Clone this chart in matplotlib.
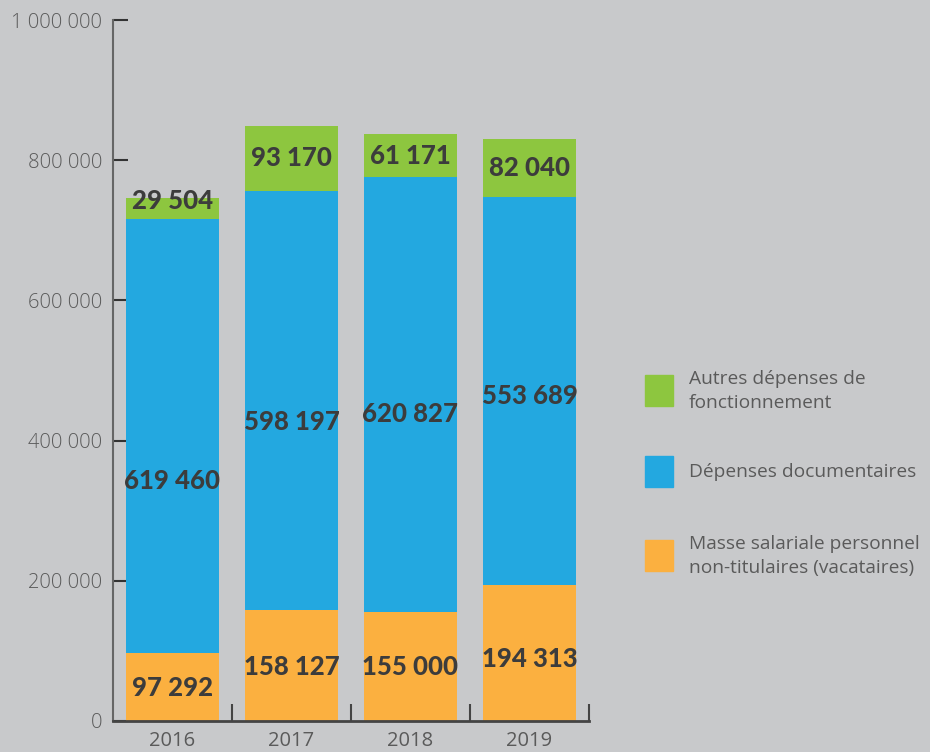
import numpy as np
import matplotlib.pyplot as plt
from matplotlib.patches import Rectangle

# Données
annees = ["2016", "2017", "2018", "2019"]
masse_salariale = [97292, 158127, 155000, 194313]
depenses_doc = [619460, 598197, 620827, 553689]
autres_depenses = [29504, 93170, 61171, 82040]

series = [
    ("Masse salariale personnel\nnon-titulaires (vacataires)", masse_salariale, "#fbb040"),
    ("Dépenses documentaires", depenses_doc, "#23a8e0"),
    ("Autres dépenses de\nfonctionnement", autres_depenses, "#8dc63f"),
]

fond = "#c8c9cb"
texte_fonce = "#3c3c3c"
texte_gris = "#5a5a5a"

# décalages des étiquettes par rapport au centre du segment (comme dans l'original)
decalages = {
    "#fbb040": [-2000, -2000, 0, -8500],
    "#23a8e0": [-65000, -31000, -28000, -7000],
    "#8dc63f": [10000, 0, 0, 0],
}

fig = plt.figure(figsize=(9.3, 7.52), dpi=100, facecolor=fond)
ax = fig.add_axes([113 / 930, 31 / 752, 476 / 930, 701 / 752])
ax.set_facecolor(fond)

x = np.arange(len(annees))
bas = np.zeros(len(annees))
for nom, vals, couleur in series:
    vals = np.array(vals, dtype=float)
    ax.bar(x, vals, 0.775, bottom=bas, color=couleur, zorder=2)
    for i, v in enumerate(vals):
        y = bas[i] + v / 2 + decalages[couleur][i]
        etiquette = f"{int(v):,}".replace(",", " ")
        ax.text(x[i], y, etiquette, ha="center", va="center", fontsize=18.5,
                fontweight="black", color=texte_fonce, family="Lato", zorder=3)
    bas += vals

ax.set_xlim(-0.5, 3.5)
ax.set_ylim(0, 1000000)

ax.set_yticks(np.arange(0, 1000001, 200000))
ax.set_yticklabels([f"{int(t):,}".replace(",", " ") for t in ax.get_yticks()])
ax.tick_params(axis="y", direction="in", length=11, width=1.5, color="#333333",
               pad=8, labelsize=14.5, labelcolor=texte_gris)
for lab in ax.get_yticklabels():
    lab.set_family("Open Sans")
    lab.set_fontweight("light")

ax.set_xticks(x)
ax.set_xticklabels(annees)
ax.set_xticks([0.5, 1.5, 2.5, 3.5], minor=True)
ax.tick_params(axis="x", which="major", length=0, pad=7, labelsize=14.5, labelcolor=texte_gris)
ax.tick_params(axis="x", which="minor", direction="in", length=12, width=1.5, color="#444444")
for lab in ax.get_xticklabels():
    lab.set_family("Open Sans")

ax.spines["top"].set_visible(False)
ax.spines["right"].set_visible(False)
ax.spines["left"].set_color("#666666")
ax.spines["left"].set_linewidth(1.5)
ax.spines["bottom"].set_color("#444444")
ax.spines["bottom"].set_linewidth(2)

# Légende
legende_y = [391, 472, 556]
for (nom, vals, couleur), yc in zip(series[::-1], legende_y):
    fig.patches.append(Rectangle((645 / 930, 1 - (yc + 15) / 752), 28 / 930, 31 / 752,
                                 transform=fig.transFigure, color=couleur))
    fig.text(689 / 930, 1 - yc / 752, nom, ha="left", va="center", fontsize=13.8,
             color=texte_gris, family="Open Sans", linespacing=1.45)

plt.savefig("out.png", dpi=100, facecolor=fond)
